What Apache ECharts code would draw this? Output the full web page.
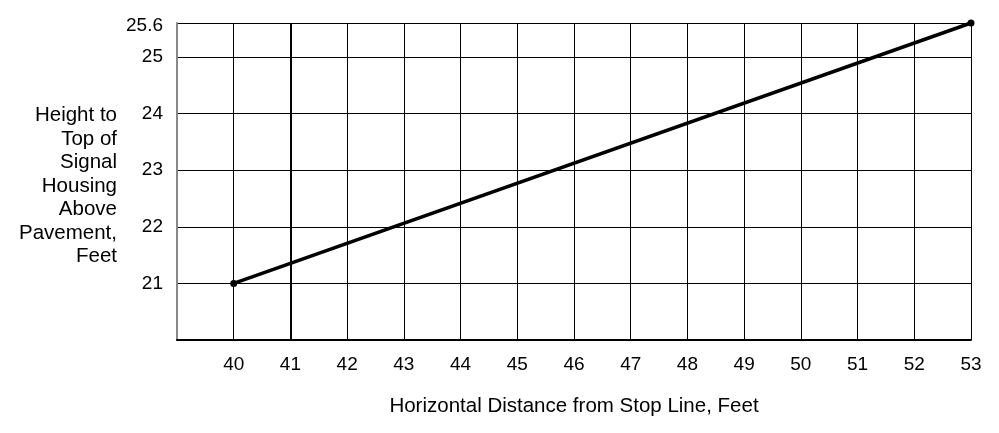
<!DOCTYPE html>
<html>
<head>
<meta charset="utf-8">
<script src="https://cdn.jsdelivr.net/npm/echarts@6/dist/echarts.min.js"></script>
<style>html,body{margin:0;padding:0;background:#fff}#c{width:999px;height:433px}</style>
</head>
<body>
<div id="c"></div>
<script>
var distance = [40, 53];
var height = [21, 25.6];
var xTicksHidden = [39];
var yTicksHidden = [20];
var emphasisLineX = [41];
var xTitle = 'Horizontal Distance from Stop Line, Feet';
var yTitle = 'Height to\nTop of\nSignal\nHousing\nAbove\nPavement,\nFeet';

var font = '"Liberation Sans", Arial, Helvetica, sans-serif';
var chart = echarts.init(document.getElementById('c'));
chart.setOption({
  animation: false,
  backgroundColor: '#fff',
  grid: {left: 177, right: 28, top: 23, bottom: 93, containLabel: false},
  graphic: [{
    type: 'text', x: 117, y: 104, silent: true,
    style: {text: yTitle, fontFamily: font, fontSize: 20.5, fill: '#000',
      align: 'right', verticalAlign: 'top', lineHeight: 23.5}
  }],
  xAxis: {
    type: 'value', min: 39, max: 53, interval: 1,
    name: xTitle, nameLocation: 'middle', nameGap: 56,
    nameTextStyle: {fontFamily: font, fontSize: 20.5, color: '#000'},
    axisLine: {show: true, lineStyle: {color: '#000', width: 2}},
    axisTick: {show: false},
    axisLabel: {fontFamily: font, fontSize: 19, color: '#000', margin: 15,
      formatter: function (v) { return xTicksHidden.indexOf(v) >= 0 ? '' : String(v); }},
    splitLine: {show: true, lineStyle: {color: '#000', width: 1}}
  },
  yAxis: {
    type: 'value', min: 20, max: 25.6, interval: 1,
    axisLine: {show: true, lineStyle: {color: '#888', width: 2}},
    axisTick: {show: false},
    axisLabel: {fontFamily: font, fontSize: 19, color: '#000', margin: 14, showMaxLabel: true,
      formatter: function (v) {
        if (yTicksHidden.indexOf(v) >= 0) return '';
        if (v === height[height.length - 1]) return '{top|' + v + '}';
        return String(v);
      },
      rich: {top: {fontFamily: font, fontSize: 19, color: '#000', padding: [6, 0, 0, 0]}}
    },
    splitLine: {show: true, lineStyle: {color: '#000', width: 1}}
  },
  series: [{
    type: 'line',
    data: distance.map(function (d, i) { return [d, height[i]]; }),
    symbol: 'circle', symbolSize: 7,
    itemStyle: {color: '#000'},
    lineStyle: {color: '#000', width: 3.5},
    markLine: {
      silent: true, symbol: 'none', label: {show: false},
      lineStyle: {color: '#000', width: 2, type: 'solid'},
      data: emphasisLineX.map(function (v) { return {xAxis: v}; })
    }
  }]
});
</script>
</body>
</html>
